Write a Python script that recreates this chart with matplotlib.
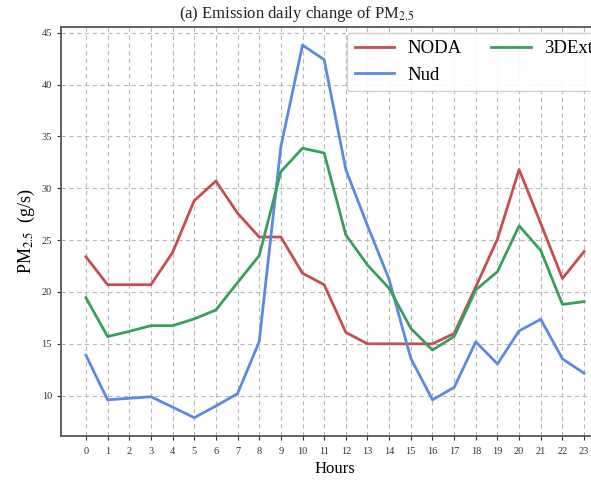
import matplotlib
matplotlib.use("Agg")
import matplotlib.pyplot as plt

hours = list(range(24))
noda = [23.4, 20.7, 20.7, 20.7, 23.8, 28.8, 30.7, 27.6, 25.3, 25.3, 21.8, 20.7,
        16.1, 15.0, 15.0, 15.0, 15.0, 16.0, 20.5, 25.1, 31.8, 26.6, 21.3, 23.9]
nud = [13.9, 9.6, 9.75, 9.9, 8.9, 7.88, 9.0, 10.2, 15.2, 34.0, 43.8, 42.4,
       31.8, 26.4, 21.2, 13.6, 9.6, 10.8, 15.2, 13.06, 16.25, 17.37, 13.55, 12.16]
exp3d = [19.45, 15.7, 16.2, 16.75, 16.75, 17.4, 18.26, 20.9, 23.5, 31.6, 33.86, 33.4,
         25.5, 22.6, 20.35, 16.5, 14.4, 15.7, 20.2, 21.96, 26.38, 24.0, 18.8, 19.07]
labels = ["NODA", "Nud", "3DExt"]
yticks = [10, 15, 20, 25, 30, 35, 40, 45]

serif = ["Liberation Serif", "DejaVu Serif"]
plt.rcParams["font.family"] = serif
plt.rcParams["mathtext.fontset"] = "stix"

W, H = 591, 482
fig = plt.figure(figsize=(W / 100, H / 100), dpi=100)
ax = fig.add_axes([61 / W, 45.7 / H, 548 / W, 409.8 / H])

l1, = ax.plot(hours, noda, color="#c44e52", lw=2.0, label=labels[0])
l2, = ax.plot(hours, nud, color="#5a8be0", lw=2.0, label=labels[1])
l3, = ax.plot(hours, exp3d, color="#3a9e5c", lw=2.0, label=labels[2])

ax.set_xticks(hours)
ax.set_xticklabels([str(h) for h in hours])
ax.set_yticks(yticks)
ax.tick_params(axis="both", labelsize=7.5, length=3, width=0.8, colors="#333333",
               direction="out")
ax.tick_params(axis="x", pad=5)
ax.grid(True, color="#b8b8b8", linestyle=(0, (4, 3)), linewidth=0.8)
ax.set_axisbelow(True)
for s in ax.spines.values():
    s.set_color("#555555")
    s.set_linewidth(1.3)

ax.set_xlabel("Hours", fontsize=12, labelpad=3)
ax.set_ylabel(r"PM$_{2.5}$  (g/s)", fontsize=13, labelpad=3)

fig.text(297 / W, 1 - 14 / H, r"(a) Emission daily change of PM$_{2.5}$",
         ha="center", va="center", fontsize=12, color="#222222")

leg = ax.legend(handles=[l1, l2, l3], labels=labels,
                ncol=2, loc="upper left", bbox_to_anchor=((347 - 61) / 548, 0.985),
                borderaxespad=0, fontsize=13.5, handlelength=2.1, handletextpad=0.7,
                columnspacing=1.6, frameon=True, fancybox=True)
leg.get_frame().set_edgecolor("#cccccc")
leg.get_frame().set_alpha(0.9)

fig.savefig("out.png", dpi=100)
